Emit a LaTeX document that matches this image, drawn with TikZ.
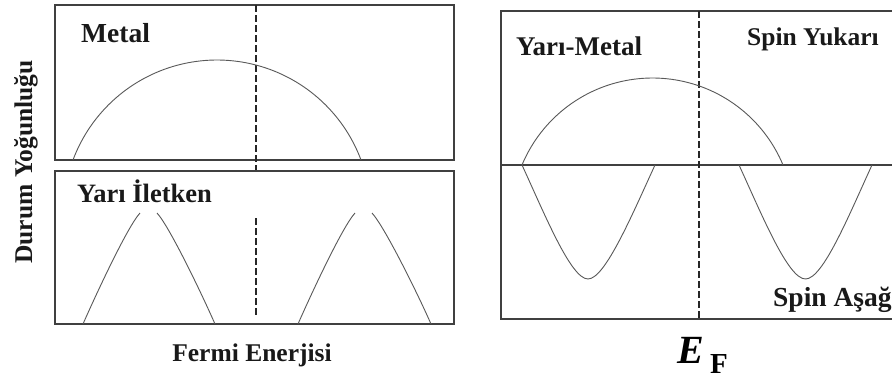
\documentclass[tikz,border=0pt]{standalone}
\usepackage{fontspec}
\setmainfont{Liberation Serif}
\begin{document}
\begin{tikzpicture}[x=1pt,y=-1pt,
  box/.style={draw=black!75, line width=1.2pt},
  curve/.style={draw=black!65, line width=0.9pt},
  efline/.style={draw=black!85, line width=1.3pt, dash pattern=on 6.5pt off 3.5pt},
  lbl/.style={font=\fontsize{25.5}{30}\selectfont\bfseries, inner sep=0pt, anchor=base west, text=black!90}]
\useasboundingbox (0,0) rectangle (892,378);
\fill[white] (0,0) rectangle (892,378);
% left panels
\draw[box] (55,5) rectangle (454,160);
\draw[box] (55,171) rectangle (454,324);
% right panel
\draw[box] (892,11) -- (501,11) -- (501,319) -- (892,319);
\draw[box] (501,165) -- (892,165);
% Fermi level lines
\draw[efline] (256,5) -- (256,170);
\draw[efline] (256,218) -- (256,316);
\draw[efline] (699,11) -- (699,319);
% metal band
\draw[curve] plot[domain=20.45:159.55, samples=80] ({217+153.7*cos(\x)}, {213.7-153.7*sin(\x)});
% semiconductor bands
\draw[curve] (83,324) .. controls (98,290) and (128,226) .. (140,213);
\draw[curve] (157,213) .. controls (169,226) and (200,290) .. (215,324);
\draw[curve] (298,324) .. controls (313,290) and (343,226) .. (355,213);
\draw[curve] (372,213) .. controls (384,226) and (416,290) .. (431,324);
% half-metal spin up band
\draw[curve] plot[domain=22.6:157.4, samples=80] ({652.5+141.4*cos(\x)}, {219.4-141.4*sin(\x)});
% half-metal spin down bands
\draw[curve] (522,165) .. controls (545,215) and (571,279) .. (588,279) .. controls (605,279) and (632,215) .. (655,165);
\draw[curve] (739,165) .. controls (762,215) and (788,279) .. (805.5,279) .. controls (823,279) and (849,215) .. (872,165);
% labels
\node[lbl, font=\fontsize{27.5}{32}\selectfont\bfseries] (metal) at (81,42) {Metal};
\node[lbl, font=\fontsize{26.5}{31}\selectfont\bfseries] (yariiletken) at (77,202) {Yarı İletken};
\node[lbl, anchor=base] (fermi) at (252,361) {Fermi Enerjisi};
\node[lbl, font=\fontsize{27}{31}\selectfont\bfseries] (yarimetal) at (516,55) {Yarı-Metal};
\node[lbl] (spinup) at (747,45) {Spin Yukarı};
\node[lbl, font=\fontsize{27.5}{32}\selectfont\bfseries] (spindown) at (773,306) {Spin Aşağı};
\node[lbl, anchor=base, rotate=90] (dos) at (32,162) {Durum Yoğunluğu};
\node[inner sep=0pt, anchor=base west, font=\fontsize{40}{44}\selectfont\bfseries\itshape] (efE) at (677,363) {E};
\node[inner sep=0pt, anchor=base west, font=\fontsize{29}{32}\selectfont\bfseries] (efF) at (710,373) {F};
\end{tikzpicture}
\end{document}
